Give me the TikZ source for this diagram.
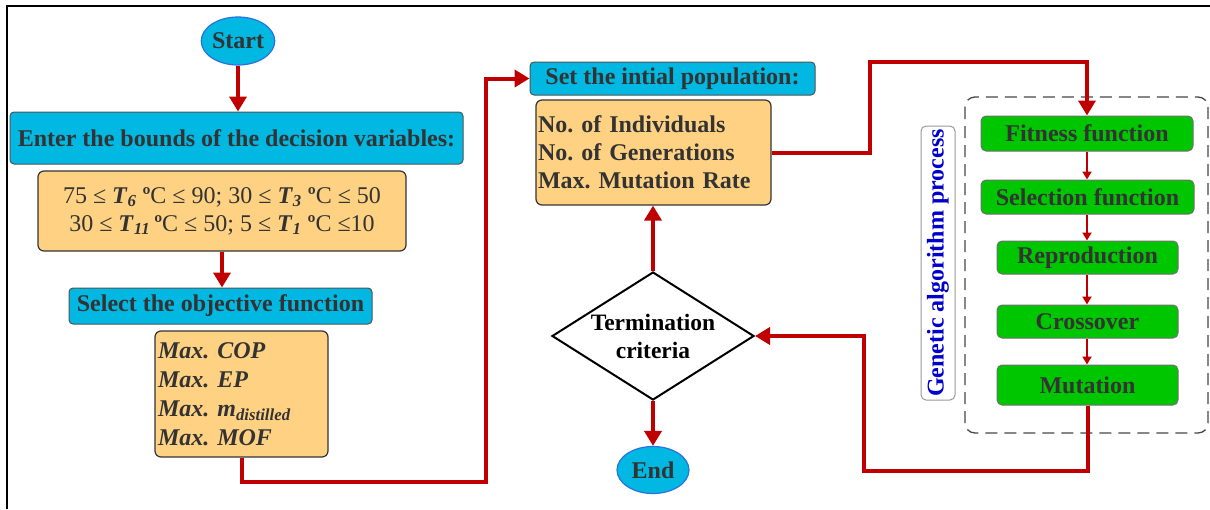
\documentclass[tikz,border=0pt]{standalone}
\usepackage{fontspec}
\setmainfont{Liberation Serif}
\usetikzlibrary{arrows.meta,shapes.geometric}
\frenchspacing
\definecolor{flowred}{HTML}{C00000}
\definecolor{boxcyan}{HTML}{00B8E2}
\definecolor{boxorange}{HTML}{FFD283}
\definecolor{boxgreen}{HTML}{00C600}
\definecolor{inktext}{HTML}{333333}
\definecolor{rimblue}{HTML}{2A72E0}
\definecolor{labelblue}{HTML}{0000CC}
\newcommand{\Tsub}[1]{\textbf{\textit{T}}\textsubscript{\textbf{\textit{#1}}}}
\newcommand{\fsz}[1]{\fontsize{#1}{#1}\selectfont}
\tikzset{
  head/.style={rectangle, rounded corners=4pt, draw=inktext!85, line width=1pt,
    fill=boxcyan, text=inktext, font=\fsz{24}\bfseries, inner sep=0pt},
  info/.style={rectangle, rounded corners=6pt, draw=inktext, line width=1.2pt,
    fill=boxorange, text=inktext, inner sep=0pt},
  gabox/.style={rectangle, rounded corners=5pt, draw=inktext!70, line width=1pt,
    fill=boxgreen, text=inktext, font=\fsz{24}\bfseries, inner sep=0pt},
  terminal/.style={ellipse, draw=rimblue, line width=1.2pt, fill=boxcyan,
    text=inktext, font=\fsz{24}\bfseries, inner sep=0pt},
  flow/.style={draw=flowred, line width=4pt, -{Triangle[width=17pt,length=15pt]}},
  gaflow/.style={draw=flowred, line width=2pt, -{Triangle[width=9pt,length=8pt]}},
}
\begin{document}
\begin{tikzpicture}[x=1pt, y=-1pt]
\useasboundingbox (0,0) rectangle (1210,509);
% outer frame (left and top edges)
\draw[line width=1.5pt] (7,509) -- (7,6) -- (1210,6);

% left column
\node[terminal, minimum width=72pt, minimum height=48pt] (start) at (238,41) {Start};
\node[head, minimum width=453pt, minimum height=52pt] (enter) at (236.5,138)
  {Enter the bounds of the decision variables:};
\node[info, minimum width=368pt, minimum height=80pt, align=center,
  font=\fontsize{24}{28}\selectfont] (bounds) at (222,211)
  {75 ≤ \Tsub{6} \textbf{º}C ≤ 90; 30 ≤ \Tsub{3} \textbf{º}C ≤ 50\\
   30 ≤ \Tsub{11}\,\textbf{º}C ≤ 50; 5 ≤ \Tsub{1} \textbf{º}C ≤10};
\node[head, minimum width=303pt, minimum height=36pt] (select) at (220.5,306)
  {Select the objective function};
\node[info, minimum width=173pt, minimum height=126pt, text width=167pt,
  align=left, font=\fontsize{24}{29}\selectfont\bfseries\itshape] (objective) at (241.5,394)
  {Max. COP\\Max. EP\\Max. \textit{m}\textsubscript{distilled}\\Max. MOF};

% middle column
\node[head, minimum width=285pt, minimum height=33pt] (set) at (672.5,78.5)
  {Set the intial population:};
\node[info, minimum width=235pt, minimum height=105pt, text width=231pt,
  align=left, font=\fontsize{24}{28}\selectfont\bfseries] (pop) at (653.5,152.5)
  {No. of Individuals\\No. of Generations\\Max. Mutation Rate};
% decision diamond: fixed outline, text set as a centred label
\node[diamond, draw=black, line width=2pt, fill=white, minimum width=202pt,
  minimum height=128pt, inner sep=0pt,
  label={[align=center, inner sep=0pt, text=black,
    font=\fontsize{23.5}{28}\selectfont\bfseries]center:Termination\\criteria}]
  (check) at (653,336) {};
\node[terminal, minimum width=72pt, minimum height=47pt] (finish) at (653,470) {End};

% genetic algorithm block
\draw[dashed, dash pattern=on 12pt off 7pt, line width=1.3pt, draw=inktext!90,
  rounded corners=10pt] (965,97) rectangle (1208,433);
\node[rectangle, rounded corners=5pt, draw=gray!80, line width=1pt, fill=white,
  minimum width=274pt, minimum height=34pt, inner sep=0pt, rotate=90,
  text=labelblue, font=\fsz{24}\bfseries] (galabel) at (938,263)
  {Genetic algorithm process};
\node[gabox, minimum width=212pt, minimum height=35pt] (fitness) at (1087,133.5) {Fitness function};
\node[gabox, minimum width=213pt, minimum height=34pt] (selection) at (1087.5,197) {Selection function};
\node[gabox, minimum width=181pt, minimum height=33pt] (repro) at (1087.5,257.5) {Reproduction};
\node[gabox, minimum width=181pt, minimum height=33pt] (cross) at (1087.5,321.5) {Crossover};
\node[gabox, minimum width=181pt, minimum height=40pt] (mutation) at (1087.5,385) {Mutation};

% corner points of the routed connectors
\coordinate (jogA) at (486,482);
\coordinate (jogB) at (870,62);
\coordinate (jogC) at (864,471);

% connectors
\draw[flow] (start.south) -- (start.south |- enter.north);
\draw[flow] (bounds.south) -- (bounds.south |- select.north);
\draw[flow] (objective.south) |- (jogA) |- (set.west);
\draw[flow] (pop.east) -| (jogB) -| (fitness.north);
\draw[gaflow] (fitness.south) -- (fitness.south |- selection.north);
\draw[gaflow] (fitness.south |- selection.south) -- (fitness.south |- repro.north);
\draw[gaflow] (fitness.south |- repro.south) -- (fitness.south |- cross.north);
\draw[gaflow] (fitness.south |- cross.south) -- (fitness.south |- mutation.north);
\draw[flow] (mutation.south) |- (jogC) |- (check.east);
\draw[flow] (check.north) -- (check.north |- pop.south);
\draw[flow] (check.south) -- (check.south |- finish.north);
\end{tikzpicture}
\end{document}
